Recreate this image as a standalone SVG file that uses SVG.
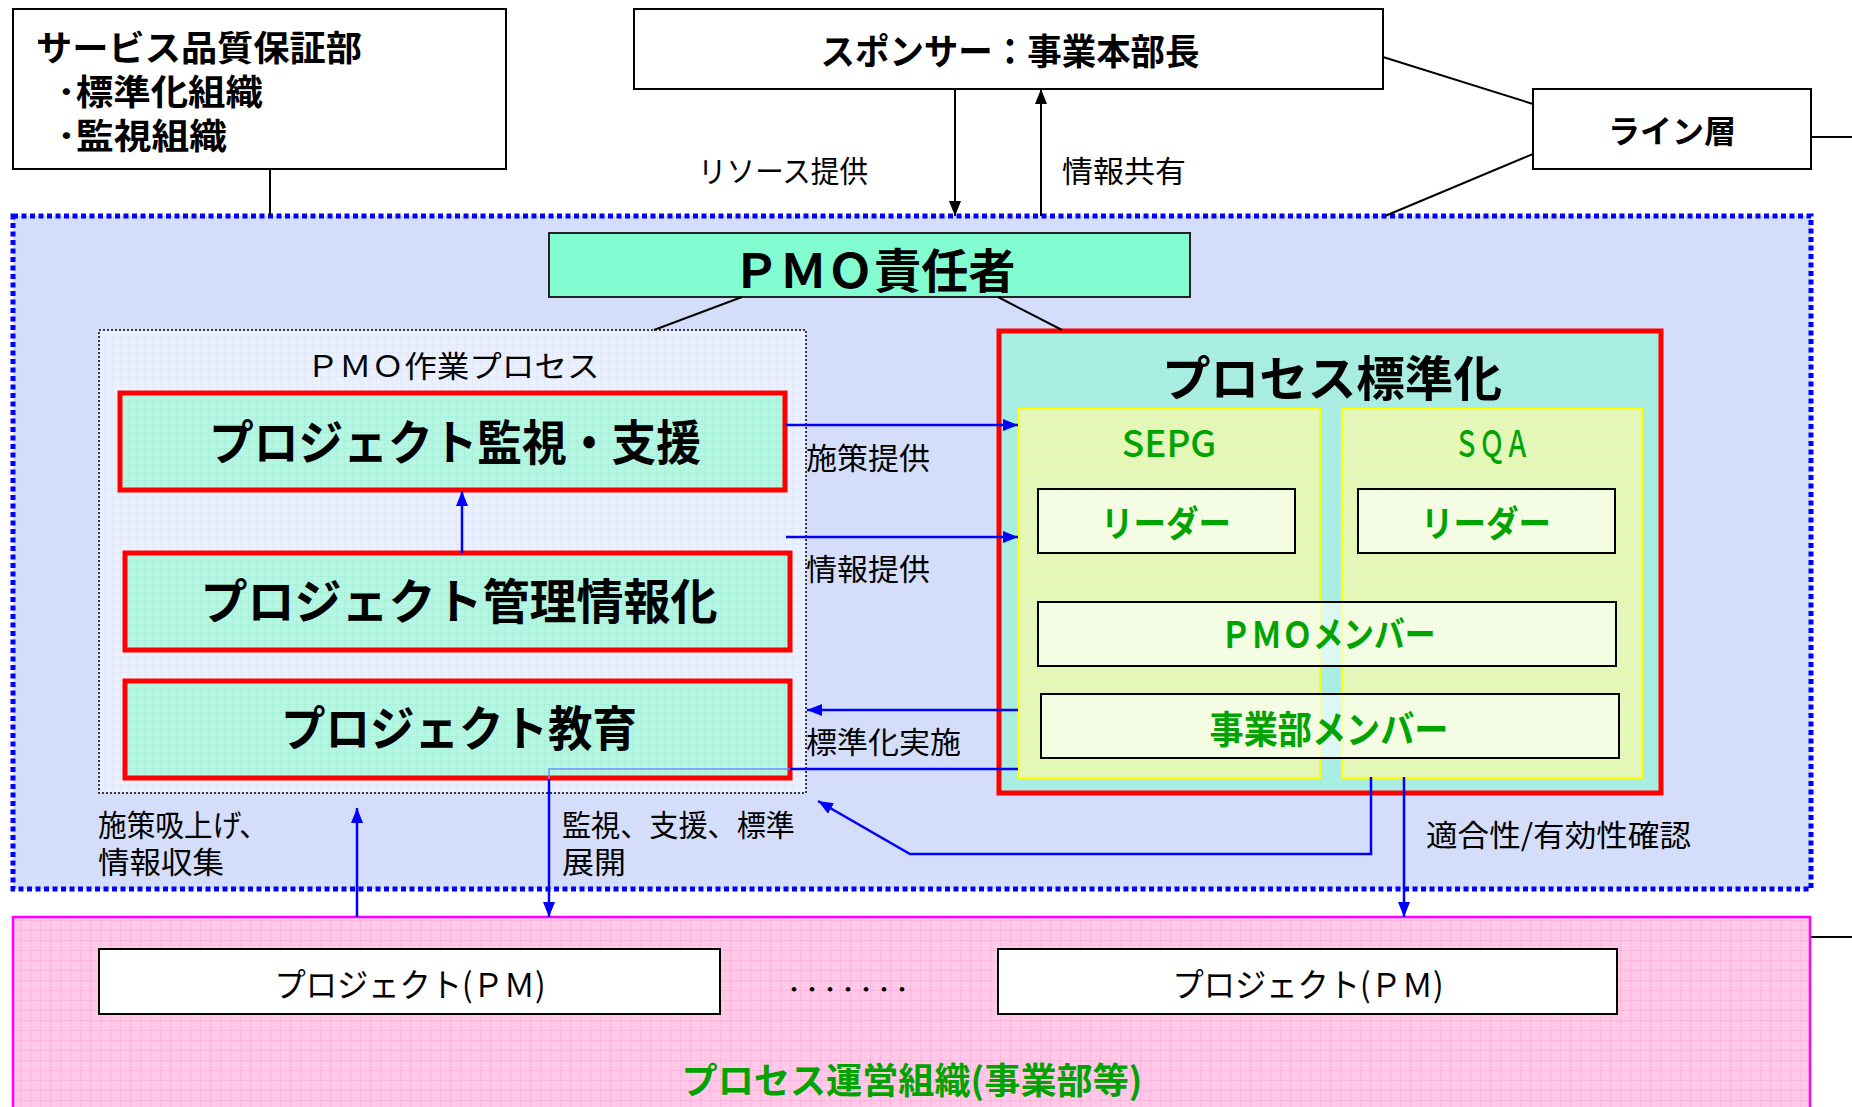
<svg xmlns="http://www.w3.org/2000/svg" width="1852" height="1107" viewBox="0 0 1852 1107">
<defs>
<style>
text{font-family:"Noto Sans CJK JP","Noto Sans",sans-serif;fill:#000}
.b{font-weight:bold}
.g{fill:#00a300}
.lbl{font-size:30px}
.box{fill:#fff;stroke:#000;stroke-width:2}
.red{stroke:#ff0000;stroke-width:5}
.blue{fill:none;stroke:#0000ff;stroke-width:2.5}
.blk{fill:none;stroke:#000;stroke-width:2}
.inner{fill:#fff;fill-opacity:0.6;stroke:#000;stroke-width:2}
</style>
<pattern id="pAqua" patternUnits="userSpaceOnUse" width="8" height="8"><rect width="8" height="8" fill="#b6f5e2"/><path d="M0,0H8M0,0V8" stroke="#9ff0d6" stroke-width="1"/></pattern>
<pattern id="pCyan" patternUnits="userSpaceOnUse" width="8" height="8"><rect width="8" height="8" fill="#aaeee2"/><path d="M0,0H8M0,0V8" stroke="#a0e9dc" stroke-width="1"/></pattern>
<pattern id="pYel" patternUnits="userSpaceOnUse" width="8" height="8"><rect width="8" height="8" fill="#e2f7bd"/><path d="M0,0H8M0,0V8" stroke="#eefaa8" stroke-width="1"/></pattern>
<pattern id="pLight" patternUnits="userSpaceOnUse" width="8" height="8"><rect width="8" height="8" fill="#eaf0fd"/><path d="M0,0H8M0,0V8" stroke="#dde5fa" stroke-width="1"/></pattern>
<pattern id="pPink" patternUnits="userSpaceOnUse" width="10" height="10"><rect width="10" height="10" fill="#ffc9e7"/><path d="M0,0H10M0,0V10" stroke="#fba6d4" stroke-width="1"/></pattern>
<marker id="ab" markerUnits="userSpaceOnUse" markerWidth="16" markerHeight="12" refX="15" refY="6" orient="auto"><path d="M0,0L15,6L0,12z" fill="#0000ff"/></marker>
<marker id="ak" markerUnits="userSpaceOnUse" markerWidth="16" markerHeight="12" refX="15" refY="6" orient="auto"><path d="M0,0L15,6L0,12z" fill="#000"/></marker>
</defs>
<rect width="1852" height="1107" fill="#fff"/>

<g id="outer-pmo">
<rect x="13" y="216" width="1798" height="673" fill="#d4defa" stroke="#0000ff" stroke-width="5" stroke-dasharray="5 3.5"/>
</g>
<g id="process-org">
<rect x="13" y="917" width="1797" height="220" fill="url(#pPink)" stroke="#ff00ff" stroke-width="2.5"/>
<text class="b g" x="912" y="1094" font-size="36" text-anchor="middle" textLength="461" lengthAdjust="spacingAndGlyphs">プロセス運営組織(事業部等)</text>
</g>

<g id="service-quality">
<rect class="box" x="13" y="9" width="493" height="160"/>
<text class="b" x="36" y="61" font-size="35" textLength="326" lengthAdjust="spacingAndGlyphs">サービス品質保証部</text>
<text class="b" x="57" y="105" font-size="35" textLength="206" lengthAdjust="spacingAndGlyphs">･標準化組織</text>
<text class="b" x="57" y="149" font-size="35" textLength="170" lengthAdjust="spacingAndGlyphs">･監視組織</text>
</g>

<g id="sponsor">
<rect class="box" x="634" y="9" width="749" height="80"/>
<text class="b" x="1010" y="65" font-size="36" text-anchor="middle" textLength="379" lengthAdjust="spacingAndGlyphs">スポンサー：事業本部長</text>
</g>

<g id="line-layer">
<rect class="box" x="1533" y="89" width="278" height="80"/>
<text class="b" x="1672" y="143" font-size="32" text-anchor="middle">ライン層</text>
</g>

<g id="pmo-head">
<rect x="549" y="233" width="641" height="64" fill="#82fdd2" stroke="#222" stroke-width="2"/>
<text class="b" x="874" y="288" font-size="47" text-anchor="middle" textLength="283" lengthAdjust="spacingAndGlyphs">ＰＭＯ責任者</text>
</g>

<g id="pmo-process">
<rect x="99" y="330" width="707" height="463" fill="url(#pLight)" stroke="#000" stroke-width="1.5" stroke-dasharray="2 2"/>
<text x="453" y="377" font-size="30" text-anchor="middle" textLength="293" lengthAdjust="spacingAndGlyphs">ＰＭＯ作業プロセス</text>
</g>

<g id="monitor-support">
<rect class="red" x="120" y="393" width="665" height="97" fill="url(#pAqua)"/>
<text class="b" x="455" y="460" font-size="48" text-anchor="middle" textLength="492" lengthAdjust="spacingAndGlyphs">プロジェクト監視・支援</text>
</g>

<g id="info-mgmt">
<rect class="red" x="125" y="553" width="665" height="97" fill="url(#pAqua)"/>
<text class="b" x="459" y="619" font-size="48" text-anchor="middle" textLength="517" lengthAdjust="spacingAndGlyphs">プロジェクト管理情報化</text>
</g>

<g id="education">
<rect class="red" x="125" y="681" width="665" height="97" fill="url(#pAqua)"/>
<text class="b" x="459" y="746" font-size="48" text-anchor="middle" textLength="356" lengthAdjust="spacingAndGlyphs">プロジェクト教育</text>
</g>

<g id="std">
<rect class="red" x="999" y="331" width="662" height="462" fill="url(#pCyan)"/>
<text class="b" x="1332" y="396" font-size="48" text-anchor="middle" textLength="340" lengthAdjust="spacingAndGlyphs">プロセス標準化</text>
</g>

<g id="sepg">
<rect x="1018" y="409" width="302" height="369" fill="url(#pYel)" stroke="#ffff00" stroke-width="2"/>
<text class="g" x="1169" y="457" font-size="37" text-anchor="middle" font-weight="500">SEPG</text>
</g>

<g id="sqa">
<rect x="1342" y="409" width="300" height="369" fill="url(#pYel)" stroke="#ffff00" stroke-width="2"/>
<text class="g" x="1492" y="457" font-size="36" text-anchor="middle" font-weight="500" textLength="76" lengthAdjust="spacingAndGlyphs">ＳＱＡ</text>
</g>

<g id="sepg-leader">
<rect class="inner" x="1038" y="489" width="257" height="64"/>
<text class="b g" x="1166" y="537" font-size="36" text-anchor="middle" textLength="130" lengthAdjust="spacingAndGlyphs">リーダー</text>
</g>

<g id="sqa-leader">
<rect class="inner" x="1358" y="489" width="257" height="64"/>
<text class="b g" x="1486" y="537" font-size="36" text-anchor="middle" textLength="130" lengthAdjust="spacingAndGlyphs">リーダー</text>
</g>

<g id="pmo-member">
<rect class="inner" x="1038" y="602" width="578" height="64"/>
<text class="b g" x="1328" y="648" font-size="36" text-anchor="middle" textLength="215" lengthAdjust="spacingAndGlyphs">ＰＭＯメンバー</text>
</g>

<g id="div-member">
<rect class="inner" x="1041" y="694" width="578" height="64"/>
<text class="b g" x="1329" y="743" font-size="38" text-anchor="middle" textLength="239" lengthAdjust="spacingAndGlyphs">事業部メンバー</text>
</g>

<g id="project1">
<rect class="box" x="99" y="949" width="621" height="65" stroke-width="2.5"/>
<text x="410" y="997" font-size="33" text-anchor="middle" textLength="271" lengthAdjust="spacingAndGlyphs">プロジェクト(ＰＭ)</text>
</g>

<g id="ellipsis">
<text class="b" x="848" y="996" font-size="18" text-anchor="middle" textLength="126" lengthAdjust="spacingAndGlyphs">・・・・・・・</text>
</g>

<g id="project2">
<rect class="box" x="998" y="949" width="619" height="65" stroke-width="2.5"/>
<text x="1308" y="997" font-size="33" text-anchor="middle" textLength="271" lengthAdjust="spacingAndGlyphs">プロジェクト(ＰＭ)</text>
</g>

<g id="connectors">
<path class="blk" d="M270,169V216"/>
<path class="blk" d="M742,297L654,330"/>
<path class="blk" d="M998,297L1062,330"/>
<path class="blk" d="M1383,57L1533,104"/>
<path class="blk" d="M1533,154L1385,216"/>
<path class="blk" d="M1811,137H1852" stroke-width="2.5"/>
<path class="blk" d="M1811,937H1852" stroke-width="3"/>
<path class="blk" d="M955,89V216" marker-end="url(#ak)"/>
<path class="blk" d="M1041,216V89" marker-end="url(#ak)"/>
<path class="blue" d="M462,553V491" marker-end="url(#ab)"/>
<path class="blue" d="M786,425H1018" marker-end="url(#ab)"/>
<path class="blue" d="M786,537H1018" marker-end="url(#ab)"/>
<path class="blue" d="M1018,710H807" marker-end="url(#ab)"/>
<path class="blue" d="M1018,769H790"/>
<path d="M790,769H549V779" fill="none" stroke="#6f8dff" stroke-width="1.5"/>
<path class="blue" d="M549,779V917" stroke-width="2" marker-end="url(#ab)"/>
<path class="blue" d="M1371,777V854H910L818,801" marker-end="url(#ab)"/>
<path class="blue" d="M1404,777V917" stroke-width="2" marker-end="url(#ab)"/>
<path class="blue" d="M357,917V808" stroke-width="2" marker-end="url(#ab)"/>
<text class="lbl" x="698" y="182" textLength="170" lengthAdjust="spacingAndGlyphs">リソース提供</text>
<text class="lbl" x="1062" y="182" textLength="124" lengthAdjust="spacingAndGlyphs">情報共有</text>
<text class="lbl" x="806" y="469" textLength="124" lengthAdjust="spacingAndGlyphs">施策提供</text>
<text class="lbl" x="806" y="580" textLength="124" lengthAdjust="spacingAndGlyphs">情報提供</text>
<text class="lbl" x="806" y="753" textLength="155" lengthAdjust="spacingAndGlyphs">標準化実施</text>
<text class="lbl" x="98" y="836" textLength="170" lengthAdjust="spacingAndGlyphs">施策吸上げ、</text>
<text class="lbl" x="98" y="873" textLength="126" lengthAdjust="spacingAndGlyphs">情報収集</text>
<text class="lbl" x="562" y="836" textLength="233" lengthAdjust="spacingAndGlyphs">監視、支援、標準</text>
<text class="lbl" x="562" y="873" textLength="64" lengthAdjust="spacingAndGlyphs">展開</text>
<text class="lbl" x="1426" y="846" textLength="265" lengthAdjust="spacingAndGlyphs">適合性/有効性確認</text>
</g>
</svg>
